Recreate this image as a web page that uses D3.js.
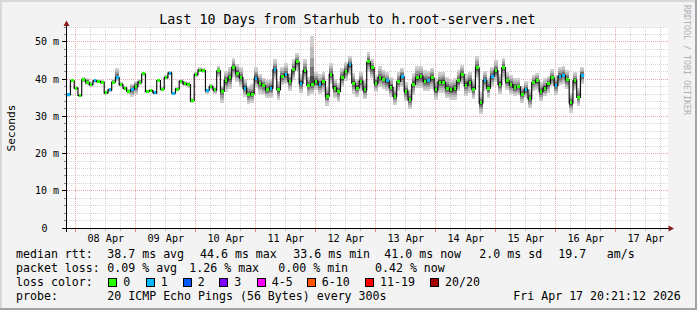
<!DOCTYPE html>
<html><head><meta charset="utf-8">
<script src="https://cdn.jsdelivr.net/npm/d3@7"></script>
<style>html,body{margin:0;padding:0;background:#f3f3f3;} svg{display:block;}</style>
</head><body><svg id="c" width="697" height="310"></svg>
<script>
// ---------- data ----------
const titleText = "Last 10 Days from Starhub to h.root-servers.net";
const rangeStart = "2026-04-07T20:21:12Z";
const rangeEnd = "2026-04-17T20:21:12Z";
const stepHours = 1.5;
const medianMs = [
 35.8,39.5,37.6,35.6,39.8,39.2,38.5,39.5,39.4,39.2,
 36.3,37.1,39.2,40.4,38.5,37.6,36.7,37.2,38.0,39.2,
 41.4,36.7,36.9,36.3,39.6,37.3,40.4,41.6,36.2,37.3,
 39.4,38.7,38.5,34.2,41.2,42.4,42.3,36.9,38.0,37.1,
 42.2,36.7,39.6,40.3,43.2,41.6,
 40.4,37.6,36.0,36.0,40.2,38.9,38.2,37.1,37.6,42.5,
 37.1,40.7,41.2,39.4,42.5,44.6,38.9,42.2,38.3,38.5,
 39.4,38.5,39.4,35.4,41.2,37.6,36.7,40.3,42.0,43.8,
 38.9,37.6,39.4,37.1,44.6,43.0,38.9,40.4,39.9,39.5,
 37.8,35.4,39.4,40.7,36.7,34.5,
 38.6,40.3,40.7,39.4,39.5,40.3,37.1,39.2,39.2,37.6,
 37.1,37.4,39.5,41.3,38.3,39.2,37.3,43.0,33.6,39.6,
 37.6,40.7,42.2,38.6,43.1,39.5,38.5,37.8,37.9,36.0,
 37.1,34.7,39.1,39.5,36.7,37.6,38.7,40.3,38.3,40.7,
 41.0,39.8,33.6,39.5,35.1,41.0
];
const lossCount = [
 1,0,0,0,0,0,0,1,0,0, 0,1,0,1,0,0,0,1,0,0, 0,0,0,1,0,0,0,1,1,0, 0,0,0,0,0,0,0,1,0,0, 0,0,0,0,0,0,
 0,1,0,0,1,0,0,0,1,1, 0,0,1,0,0,0,1,0,0,0, 0,1,0,0,0,0,0,0,0,1, 0,0,0,0,0,0,0,0,0,1, 0,0,0,1,0,0,
 0,0,0,0,1,0,0,0,0,0, 0,0,0,0,0,0,0,0,0,1, 0,1,0,0,0,0,0,0,0,0, 1,0,0,0,0,0,0,0,1,1, 1,0,0,0,0,1
];
const smokeUp = [
 0.6,0.4,0.5,0.4,0.8,1.2,0.8,0.6,0.5,0.5, 0.4,0.6,0.8,2.5,0.8,0.6,0.6,1.5,1.6,0.8,
 0.6,0.4,0.4,0.5,0.5,0.6,0.8,0.6,0.4,0.5, 0.6,0.8,0.8,0.6,0.8,0.8,0.6,0.5,0.6,0.8,
 1.2,1.5,2.5,3.0,2.5,2.5,
 2.8,2.5,2.2,2.6,3.0,2.4,2.2,2.6,2.5,2.8, 2.4,2.6,3.0,2.2,2.8,2.5,2.6,3.2,2.4,13.0,
 2.5,2.8,2.4,2.6,3.0,2.5,2.2,2.8,2.6,2.4, 2.8,2.5,2.4,2.6,2.8,2.5,2.2,3.0,2.6,2.4,
 2.8,2.5,2.6,2.4,2.6,2.8,
 3.0,3.2,2.8,3.0,2.6,2.8,3.2,2.6,2.8,3.0, 2.6,2.8,3.0,2.6,3.0,2.8,2.6,3.2,3.0,2.6,
 2.8,2.6,3.0,2.8,2.6,2.4,2.6,2.5,2.4,2.2, 2.4,2.6,2.0,2.2,2.4,2.6,2.2,2.4,2.8,2.6,
 2.4,2.6,2.8,2.4,2.6,2.2
];
const smokeDown = [
 0.6,0.4,0.5,0.5,0.6,0.8,0.6,0.5,0.5,0.5, 0.5,0.6,0.6,0.8,0.6,0.6,0.6,2.0,2.2,0.8,
 0.5,0.4,0.4,0.5,0.5,0.6,0.6,0.6,0.5,0.5, 0.6,0.6,0.8,0.6,0.6,0.6,0.6,0.8,0.8,1.0,
 1.5,3.0,3.0,3.0,2.5,2.5,
 2.6,2.4,2.8,2.5,2.6,2.8,2.4,2.2,2.6,2.5, 2.8,2.4,2.6,2.5,2.8,2.4,2.6,2.5,2.8,2.6,
 2.4,2.6,2.8,2.5,2.4,2.6,2.8,2.4,2.5,2.6, 2.8,2.4,2.6,2.5,2.6,2.8,2.4,2.6,2.5,2.8,
 2.6,2.4,2.6,2.8,2.5,2.4,
 3.0,2.8,3.2,2.6,2.8,3.0,2.6,2.8,3.0,2.8, 2.6,3.0,2.8,2.6,2.8,3.0,2.6,2.8,3.0,2.8,
 2.6,2.8,3.0,2.6,2.8,2.4,2.6,2.4,2.2,2.4, 2.2,2.4,2.2,2.4,2.6,2.2,2.4,2.2,2.6,2.4,
 2.2,2.4,2.6,2.4,2.2,2.4
];
const yTickValues = [0,10,20,30,40,50];
const yTickLabels = ["0","10 m","20 m","30 m","40 m","50 m"];
const dayLabels = ["08 Apr","09 Apr","10 Apr","11 Apr","12 Apr","13 Apr","14 Apr","15 Apr","16 Apr","17 Apr"];
const lossLegendLabels = ["0","1","2","3","4-5","6-10","11-19","20/20"];
const lossLegendColors = ["#26ff00","#00b8ff","#0059ff","#7e00ff","#ff00ff","#ff5500","#ff0000","#a10000"];
const rttStats = [["median rtt:",16],["38.7 ms avg",107.3],["44.6 ms max",200],["33.6 ms min",293.3],["41.0 ms now",384.3],["2.0 ms sd",479.3],["19.7",558.3],["am/s",606.7]];
const lossStats = [["packet loss:",16],["0.09 % avg",107.3],["1.26 % max",189.3],["0.00 % min",278.3],["0.42 % now",375]];
const probeText = [["probe:",16],["20 ICMP Echo Pings (56 Bytes) every 300s",107.3],["Fri Apr 17 20:21:12 2026",513.3]];
const lossLegendX = [108.3,145.7,182.7,219.3,256.7,306.7,365,430];

// ---------- drawing ----------
const W=697,H=310;
const FONT = "'DejaVu Sans Mono', monospace";
const svg = d3.select("#c");
svg.append("rect").attr("width",W).attr("height",H).attr("fill","#f3f3f3");
svg.append("rect").attr("x",0).attr("y",0).attr("width",W).attr("height",2).attr("fill","#d8d8d8");
svg.append("rect").attr("x",0).attr("y",0).attr("width",2).attr("height",H).attr("fill","#d8d8d8");
svg.append("rect").attr("x",W-2).attr("y",0).attr("width",2).attr("height",H).attr("fill","#a3a3a3");
svg.append("rect").attr("x",0).attr("y",H-2).attr("width",W).attr("height",2).attr("fill","#a3a3a3");

const t0 = new Date(rangeStart), t1 = new Date(rangeEnd);
const x = d3.scaleUtc().domain([t0,t1]).range([66.7,666.7]);
const y = d3.scaleLinear().domain([0,54]).range([228,27]);
const px = v => Math.floor(v)+0.5;

svg.append("rect").attr("x",67).attr("y",27).attr("width",601).attr("height",201).attr("fill","#ffffff");

const grid = svg.append("g").attr("shape-rendering","crispEdges");
d3.range(0,55,2).forEach(v=>{
  if (v===0) return;
  const major = v%10===0;
  grid.append("line").attr("x1",67).attr("x2",668).attr("y1",px(y(v))).attr("y2",px(y(v)))
    .attr("stroke",major?"#e8a8a8":"#d6d6d6").attr("stroke-dasharray","1,1");
  grid.append("line").attr("x1",major?62:64).attr("x2",67).attr("y1",px(y(v))).attr("y2",px(y(v)))
    .attr("stroke",major?"#000":"#888");
});
d3.utcHour.every(6).range(t0,t1).forEach(t=>{
  const major = t.getUTCHours()===0;
  const xx = px(x(t));
  grid.append("line").attr("x1",xx).attr("x2",xx).attr("y1",27).attr("y2",228)
    .attr("stroke",major?"#e8a8a8":"#d6d6d6").attr("stroke-dasharray","1,1");
  grid.append("line").attr("x1",xx).attr("x2",xx).attr("y1",229).attr("y2",major?232:231)
    .attr("stroke",major?"#e08080":"#bbbbbb");
});

// smoke
const times = medianMs.map((d,i)=> new Date(t0.getTime()+i*stepHours*3600e3));
const tEndData = new Date(t0.getTime()+medianMs.length*stepHours*3600e3);
const layers = [[1.0,"#d0d0d0"],[0.78,"#bcbcbc"],[0.56,"#9c9c9c"],[0.36,"#747474"],[0.18,"#464646"]];
const smoke = svg.append("g").attr("shape-rendering","crispEdges");
layers.forEach(([f,c])=>{
  smoke.selectAll(null).data(medianMs).enter().append("rect")
    .attr("x",(d,i)=>Math.round(x(times[i])))
    .attr("width",(d,i)=>Math.round(x(i+1<times.length?times[i+1]:tEndData))-Math.round(x(times[i])))
    .attr("y",(d,i)=>y(d+smokeUp[i]*f))
    .attr("height",(d,i)=>y(d-smokeDown[i]*f)-y(d+smokeUp[i]*f))
    .attr("fill",c);
});

// median line
const pts = medianMs.map((d,i)=>[x(times[i]),y(d)]);
pts.push([x(tEndData),y(medianMs[medianMs.length-1])]);
svg.append("path").attr("d",d3.line().curve(d3.curveStepAfter)(pts))
  .attr("fill","none").attr("stroke","#111").attr("stroke-width",1.2);

// loss coloured markers
svg.append("g").attr("shape-rendering","crispEdges").selectAll("rect").data(medianMs).enter().append("rect")
  .attr("x",(d,i)=>x(times[i])+0.6).attr("width",2.6)
  .attr("y",d=>y(d)-1.5).attr("height",3)
  .attr("fill",(d,i)=>lossLegendColors[lossCount[i]]);

// axes
const ax = svg.append("g").attr("shape-rendering","crispEdges");
ax.append("line").attr("x1",62).attr("x2",669).attr("y1",228.5).attr("y2",228.5).attr("stroke","#000");
ax.append("line").attr("x1",66.5).attr("x2",66.5).attr("y1",232).attr("y2",24).attr("stroke","#000");
svg.append("path").attr("d","M63.5,26 L66.5,20.5 L69.5,26 Z").attr("fill","#8b1a1a");
svg.append("path").attr("d","M668.5,225.5 L674,228.5 L668.5,231.5 Z").attr("fill","#8b1a1a");

yTickValues.forEach((v,i)=>{
  svg.append("text").attr("x",v===0?47.5:59).attr("y",y(v)+3.6).attr("text-anchor","end")
    .attr("font-family",FONT).attr("font-size","10px").attr("fill","#000").text(yTickLabels[i]);
});
const parseDay = d3.utcParse("%d %b %Y");
dayLabels.forEach(l=>{
  const d = parseDay(l+" 2026");
  const tm = new Date(d.getTime()+12*3600e3);
  svg.append("text").attr("x",x(tm)).attr("y",242).attr("text-anchor","middle")
    .attr("font-family",FONT).attr("font-size","10.2px").attr("fill","#000").text(l);
});

svg.append("text").attr("x",347.5).attr("y",24).attr("text-anchor","middle")
  .attr("font-family",FONT).attr("font-size","13.3px").attr("fill","#000").text(titleText);
svg.append("text").attr("transform","translate(15,128) rotate(-90)").attr("text-anchor","middle")
  .attr("font-family",FONT).attr("font-size","11.2px").attr("fill","#000").text("Seconds");
svg.append("text").attr("transform","translate(684,5) rotate(90)").attr("text-anchor","start")
  .attr("font-family",FONT).attr("font-size","8.3px").attr("fill","#b0b0b0").text("RRDTOOL / TOBI OETIKER");

const lg = svg.append("g").attr("font-family",FONT).attr("font-size","11.6px").attr("fill","#000")
  .attr("xml:space","preserve");
const row = (items,yb)=>items.forEach(([s,xx])=>lg.append("text").attr("x",xx).attr("y",yb).text(s));
row(rttStats,258);
row(lossStats,272);
row([["loss color:",16]],286);
lossLegendLabels.forEach((l,i)=>{
  lg.append("rect").attr("x",lossLegendX[i]+0.5).attr("y",278.5).attr("width",8).attr("height",8)
    .attr("fill",lossLegendColors[i]).attr("stroke","#000").attr("stroke-width",1).attr("shape-rendering","crispEdges");
  lg.append("text").attr("x",lossLegendX[i]+15).attr("y",286).text(l);
});
row(probeText,300);
</script>
</body></html>
